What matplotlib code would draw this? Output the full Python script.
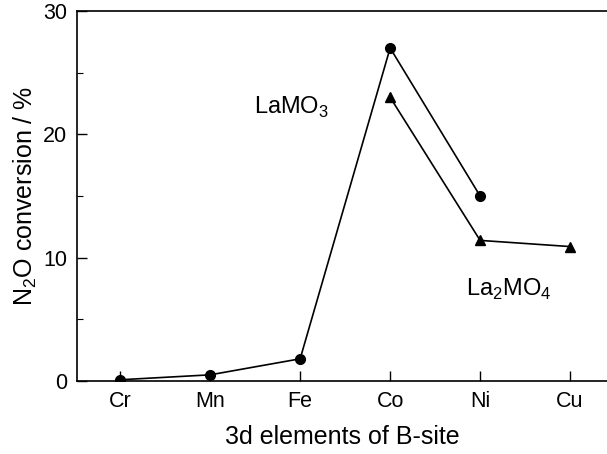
import matplotlib
matplotlib.use('Agg')
import matplotlib.pyplot as plt
from matplotlib.ticker import MultipleLocator

plt.rcParams['font.family'] = ['Liberation Sans', 'DejaVu Sans']
plt.rcParams['mathtext.fontset'] = 'custom'
plt.rcParams['mathtext.rm'] = 'Liberation Sans'

elements = ['Cr', 'Mn', 'Fe', 'Co', 'Ni', 'Cu']
lamo3_x = [0, 1, 2, 3, 4]
lamo3_y = [0.1, 0.5, 1.8, 27.0, 15.0]
la2mo4_x = [3, 4, 5]
la2mo4_y = [23.0, 11.4, 10.9]

fig = plt.figure(figsize=(6.07, 4.54), dpi=100)
ax = fig.add_axes([77 / 607, 1 - 381 / 454, 1 - 77 / 607, 370 / 454])

ax.plot(lamo3_x, lamo3_y, color='black', lw=1.2, marker='o', ms=7)
ax.plot(la2mo4_x, la2mo4_y, color='black', lw=1.2, marker='^', ms=7)

ax.set_xlim(-0.48, 5.41)
ax.set_ylim(0, 30)
ax.set_xticks(range(len(elements)))
ax.set_xticklabels(elements)
ax.yaxis.set_major_locator(MultipleLocator(10))
ax.yaxis.set_minor_locator(MultipleLocator(5))
ax.tick_params(direction='in', labelsize=15.5, length=7, width=1)
ax.tick_params(which='minor', direction='in', length=4, width=0.8)
ax.tick_params(axis='x', pad=7.5)
ax.tick_params(axis='y', pad=7)
ax.spines['right'].set_visible(False)
for s in ['left', 'top', 'bottom']:
    ax.spines[s].set_linewidth(1.2)

ax.set_xlabel('3d elements of B-site', fontsize=18, labelpad=9)
ax.set_ylabel('N$_2$O conversion / %', fontsize=18, labelpad=3)

ax.text(1.9, 22.2, 'LaMO$_3$', fontsize=17, ha='center', va='center')
ax.text(4.32, 7.4, 'La$_2$MO$_4$', fontsize=17, ha='center', va='center')

fig.savefig('out.png', dpi=100)
